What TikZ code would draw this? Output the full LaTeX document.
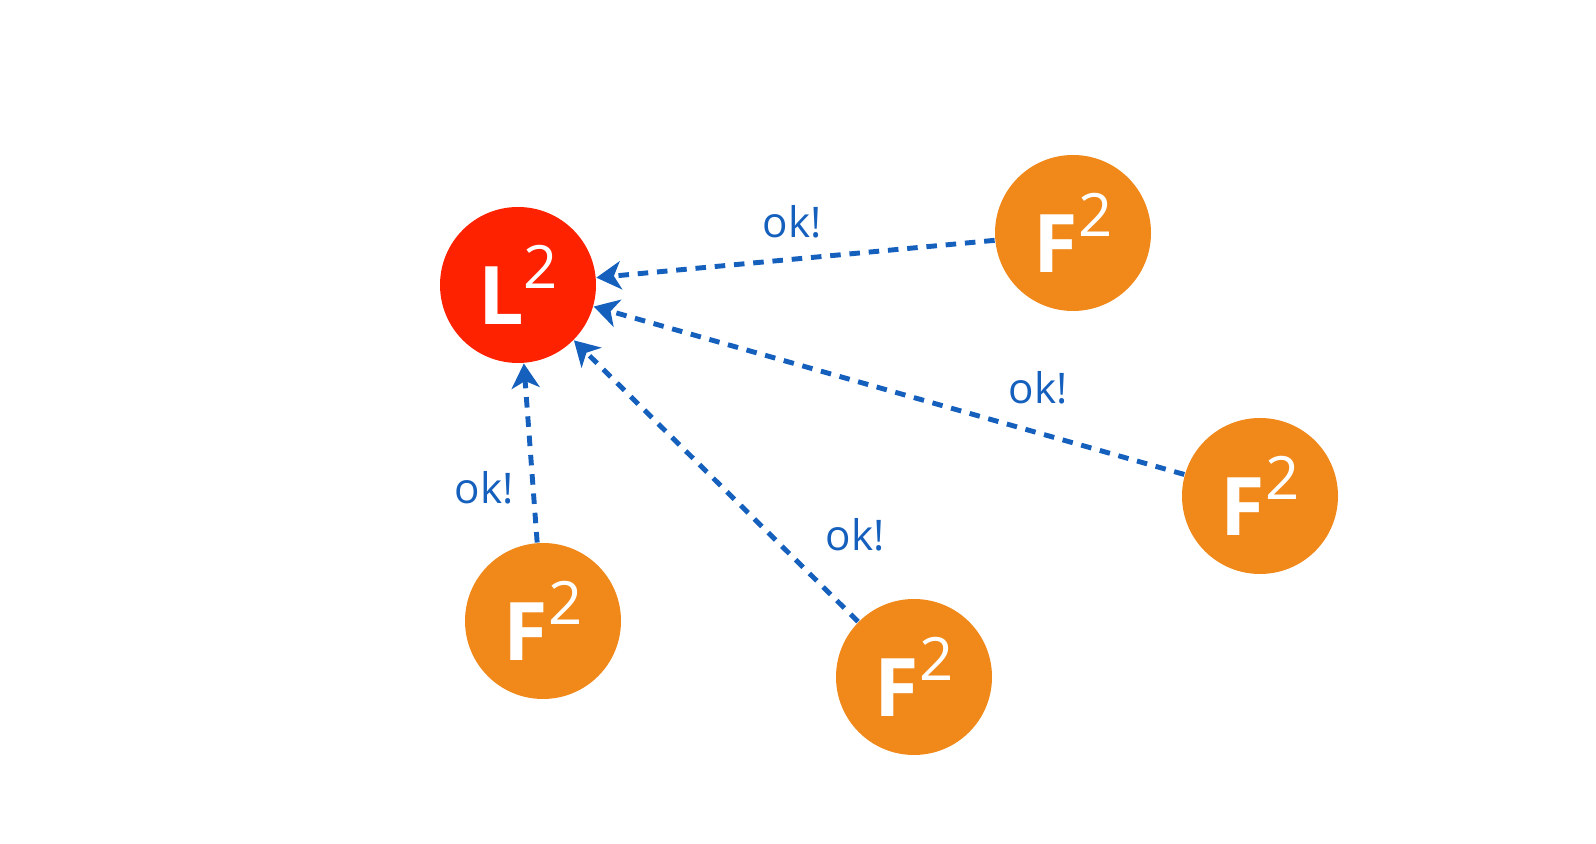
\documentclass[tikz,border=0pt]{standalone}
\usepackage{fontspec}
\setmainfont{Open Sans}
\usetikzlibrary{arrows.meta}
\definecolor{leadred}{HTML}{FF2200}
\definecolor{folorange}{HTML}{F0881A}
\definecolor{okblue}{HTML}{1560BD}
\newcommand{\rolename}[1]{{\bfseries\fontsize{23}{23}\selectfont #1}\raisebox{0.36cm}{\fontsize{17}{17}\selectfont 2}}
\begin{document}
\begin{tikzpicture}[
    lead/.style={circle, fill=leadred, minimum size=1.56cm, inner sep=0pt, text=white},
    fol/.style={circle, fill=folorange, minimum size=1.56cm, inner sep=0pt, text=white},
    vote/.style={okblue, line width=1.4pt, dash pattern=on 3pt off 2.5pt, -{Stealth[length=7pt, width=8pt, inset=2pt]}},
    oklabel/.style={text=okblue, font=\fontsize{12}{12}\selectfont}
]
    \useasboundingbox (0,0) rectangle (15.96,-8.44);

    % Leader
    \node[lead] (leader) at (5.18,-2.85) {\rolename{L}};

    % Followers
    \node[fol] (fa) at (10.73,-2.33) {\rolename{F}};
    \node[fol] (fb) at (12.60,-4.96) {\rolename{F}};
    \node[fol] (fc) at (9.14,-6.77) {\rolename{F}};
    \node[fol] (fd) at (5.43,-6.21) {\rolename{F}};

    % Votes
    \draw[vote] (fa) -- (leader);
    \draw[vote] (fb) -- (leader);
    \draw[vote] (fc) -- (leader);
    \draw[vote] (fd) -- (leader);

    % Labels
    \node[oklabel] (oka) at (7.92,-2.22) {ok!};
    \node[oklabel] (okb) at (10.38,-3.88) {ok!};
    \node[oklabel] (okc) at (8.55,-5.35) {ok!};
    \node[oklabel] (okd) at (4.84,-4.88) {ok!};
\end{tikzpicture}
\end{document}
